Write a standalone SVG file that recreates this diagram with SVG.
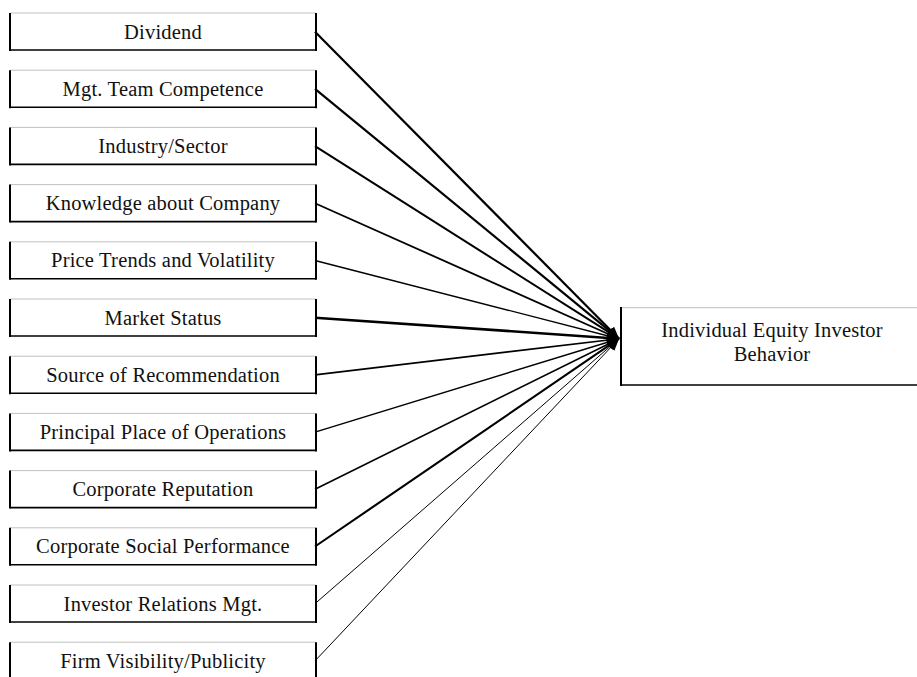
<svg xmlns="http://www.w3.org/2000/svg" width="917" height="677" viewBox="0 0 917 677">
<style>
  .top{stroke:#c0c0c0;stroke-width:1;}
  .side{stroke:#000;stroke-width:2;}
  .bot{stroke:#000;stroke-width:1.6;}
  .lbl{font-family:"Liberation Serif","Times New Roman",serif;font-size:20.5px;letter-spacing:0.2px;fill:#111;text-anchor:middle;}
  .c{fill:none;stroke:#000;}
</style>
<defs>
  <marker id="ah" markerUnits="userSpaceOnUse" markerWidth="14" markerHeight="10" refX="12" refY="5" orient="auto">
    <path d="M0,0 L12,5 L0,10 Z" fill="#000"/>
  </marker>
</defs>
<rect width="917" height="677" fill="#fff"/>
<g id="connectors">
  <line class="c" x1="315" y1="31.7" x2="619" y2="338.7" stroke-width="2.2" marker-end="url(#ah)"/>
  <line class="c" x1="315" y1="88.9" x2="619" y2="338.7" stroke-width="2.2" marker-end="url(#ah)"/>
  <line class="c" x1="315" y1="146.1" x2="619" y2="338.7" stroke-width="2" marker-end="url(#ah)"/>
  <line class="c" x1="315" y1="203.3" x2="619" y2="338.7" stroke-width="1.8" marker-end="url(#ah)"/>
  <line class="c" x1="315" y1="260.5" x2="619" y2="338.7" stroke-width="1.4" marker-end="url(#ah)"/>
  <line class="c" x1="315" y1="317.7" x2="619" y2="338.7" stroke-width="2.6" marker-end="url(#ah)"/>
  <line class="c" x1="315" y1="374.9" x2="619" y2="338.7" stroke-width="1.6" marker-end="url(#ah)"/>
  <line class="c" x1="315" y1="432.1" x2="619" y2="338.7" stroke-width="1.5" marker-end="url(#ah)"/>
  <line class="c" x1="315" y1="489.3" x2="619" y2="338.7" stroke-width="1.6" marker-end="url(#ah)"/>
  <line class="c" x1="315" y1="546.5" x2="619" y2="338.7" stroke-width="2.1" marker-end="url(#ah)"/>
  <line class="c" x1="315" y1="603.7" x2="619" y2="338.7" stroke-width="1" marker-end="url(#ah)"/>
  <line class="c" x1="315" y1="660.9" x2="619" y2="338.7" stroke-width="1" marker-end="url(#ah)"/>
</g>
<g id="n1" transform="translate(0,13)">
  <line class="top" x1="10" y1="0" x2="316" y2="0"/><line class="bot" x1="10" y1="37" x2="316" y2="37"/>
  <line class="side" x1="10" y1="0" x2="10" y2="38"/><line class="side" x1="316" y1="0" x2="316" y2="38"/>
  <text class="lbl" x="163" y="25.5">Dividend</text>
</g>
<g id="n2" transform="translate(0,70.2)">
  <line class="top" x1="10" y1="0" x2="316" y2="0"/><line class="bot" x1="10" y1="37" x2="316" y2="37"/>
  <line class="side" x1="10" y1="0" x2="10" y2="38"/><line class="side" x1="316" y1="0" x2="316" y2="38"/>
  <text class="lbl" x="163" y="25.5">Mgt. Team Competence</text>
</g>
<g id="n3" transform="translate(0,127.4)">
  <line class="top" x1="10" y1="0" x2="316" y2="0"/><line class="bot" x1="10" y1="37" x2="316" y2="37"/>
  <line class="side" x1="10" y1="0" x2="10" y2="38"/><line class="side" x1="316" y1="0" x2="316" y2="38"/>
  <text class="lbl" x="163" y="25.5">Industry/Sector</text>
</g>
<g id="n4" transform="translate(0,184.6)">
  <line class="top" x1="10" y1="0" x2="316" y2="0"/><line class="bot" x1="10" y1="37" x2="316" y2="37"/>
  <line class="side" x1="10" y1="0" x2="10" y2="38"/><line class="side" x1="316" y1="0" x2="316" y2="38"/>
  <text class="lbl" x="163" y="25.5">Knowledge about Company</text>
</g>
<g id="n5" transform="translate(0,241.8)">
  <line class="top" x1="10" y1="0" x2="316" y2="0"/><line class="bot" x1="10" y1="37" x2="316" y2="37"/>
  <line class="side" x1="10" y1="0" x2="10" y2="38"/><line class="side" x1="316" y1="0" x2="316" y2="38"/>
  <text class="lbl" x="163" y="25.5">Price Trends and Volatility</text>
</g>
<g id="n6" transform="translate(0,299)">
  <line class="top" x1="10" y1="0" x2="316" y2="0"/><line class="bot" x1="10" y1="37" x2="316" y2="37"/>
  <line class="side" x1="10" y1="0" x2="10" y2="38"/><line class="side" x1="316" y1="0" x2="316" y2="38"/>
  <text class="lbl" x="163" y="25.5">Market Status</text>
</g>
<g id="n7" transform="translate(0,356.2)">
  <line class="top" x1="10" y1="0" x2="316" y2="0"/><line class="bot" x1="10" y1="37" x2="316" y2="37"/>
  <line class="side" x1="10" y1="0" x2="10" y2="38"/><line class="side" x1="316" y1="0" x2="316" y2="38"/>
  <text class="lbl" x="163" y="25.5">Source of Recommendation</text>
</g>
<g id="n8" transform="translate(0,413.4)">
  <line class="top" x1="10" y1="0" x2="316" y2="0"/><line class="bot" x1="10" y1="37" x2="316" y2="37"/>
  <line class="side" x1="10" y1="0" x2="10" y2="38"/><line class="side" x1="316" y1="0" x2="316" y2="38"/>
  <text class="lbl" x="163" y="25.5">Principal Place of Operations</text>
</g>
<g id="n9" transform="translate(0,470.6)">
  <line class="top" x1="10" y1="0" x2="316" y2="0"/><line class="bot" x1="10" y1="37" x2="316" y2="37"/>
  <line class="side" x1="10" y1="0" x2="10" y2="38"/><line class="side" x1="316" y1="0" x2="316" y2="38"/>
  <text class="lbl" x="163" y="25.5">Corporate Reputation</text>
</g>
<g id="n10" transform="translate(0,527.8)">
  <line class="top" x1="10" y1="0" x2="316" y2="0"/><line class="bot" x1="10" y1="37" x2="316" y2="37"/>
  <line class="side" x1="10" y1="0" x2="10" y2="38"/><line class="side" x1="316" y1="0" x2="316" y2="38"/>
  <text class="lbl" x="163" y="25.5">Corporate Social Performance</text>
</g>
<g id="n11" transform="translate(0,585)">
  <line class="top" x1="10" y1="0" x2="316" y2="0"/><line class="bot" x1="10" y1="37" x2="316" y2="37"/>
  <line class="side" x1="10" y1="0" x2="10" y2="38"/><line class="side" x1="316" y1="0" x2="316" y2="38"/>
  <text class="lbl" x="163" y="25.5">Investor Relations Mgt.</text>
</g>
<g id="n12" transform="translate(0,642.2)">
  <line class="top" x1="10" y1="0" x2="316" y2="0"/><line class="bot" x1="10" y1="37" x2="316" y2="37"/>
  <line class="side" x1="10" y1="0" x2="10" y2="38"/><line class="side" x1="316" y1="0" x2="316" y2="38"/>
  <text class="lbl" x="163" y="25.5">Firm Visibility/Publicity</text>
</g>
<g id="target">
  <line class="top" x1="621" y1="307.7" x2="917" y2="307.7"/>
  <line class="bot" x1="621" y1="385" x2="917" y2="385"/>
  <line class="side" x1="621" y1="307" x2="621" y2="386"/>
  <text class="lbl" x="772" y="336.5">Individual Equity Investor</text>
  <text class="lbl" x="772" y="360.5">Behavior</text>
</g>
</svg>
